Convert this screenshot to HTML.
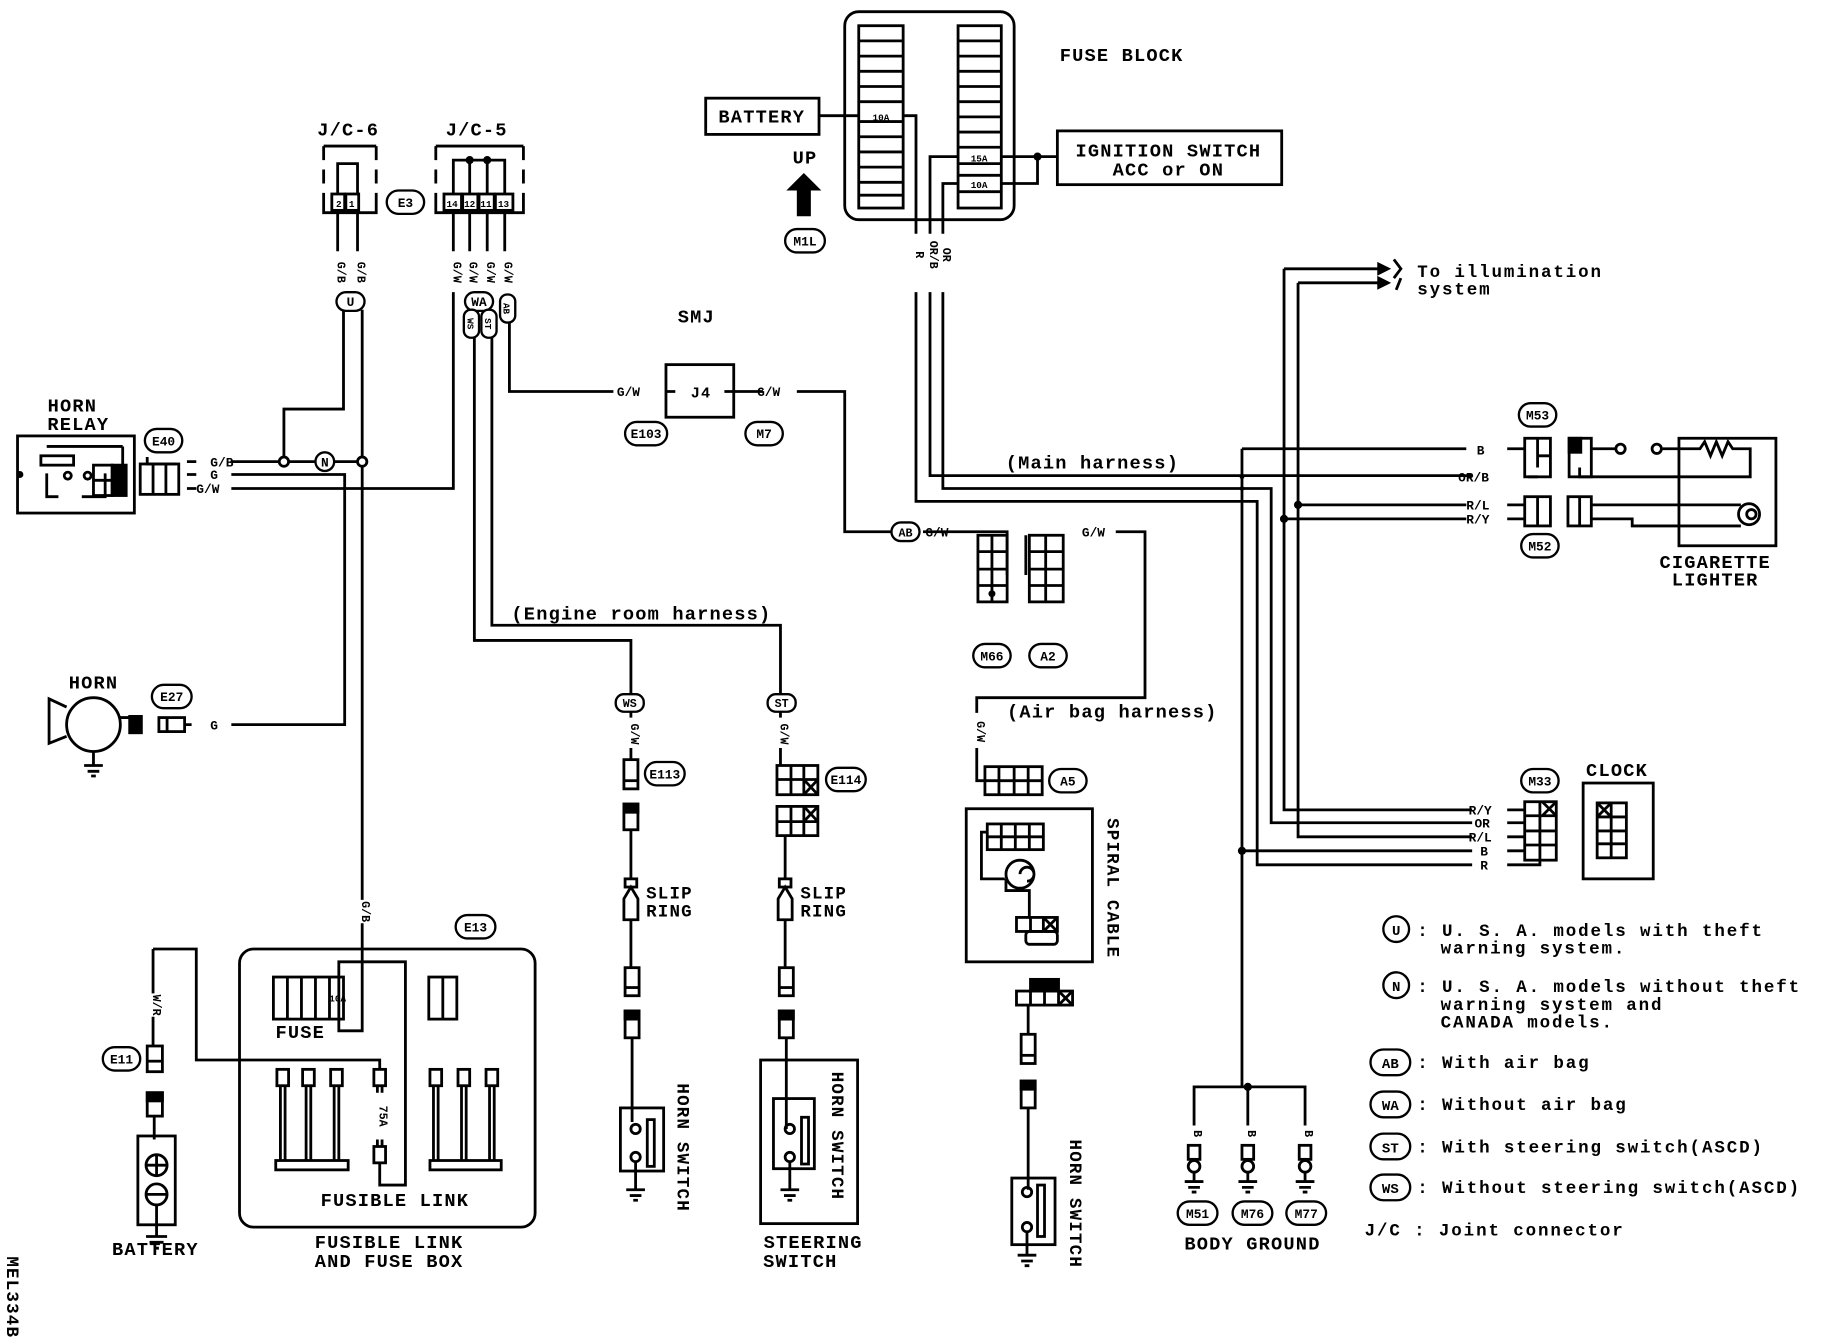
<!DOCTYPE html>
<html><head><meta charset="utf-8"><style>
html,body{margin:0;padding:0;background:#fff;}
svg{display:block;}
text{font-family:"Liberation Mono","DejaVu Sans Mono",monospace;font-weight:bold;fill:#000;}
.big{letter-spacing:1px;}
.leg{letter-spacing:1.6px;}
</style></head><body>
<svg width="1832" height="1344" viewBox="0 0 1568 1150" preserveAspectRatio="none" xmlns="http://www.w3.org/2000/svg">
<rect width="1568" height="1150" fill="#fff"/>
<g fill="none" stroke="#000" stroke-width="2.4">
<rect x="723" y="10" width="145" height="178" rx="12"/>
<rect x="735" y="22" width="38" height="156"/>
<path d="M735 35h38M735 48h38M735 61h38M735 74h38M735 87h38M735 104h38M735 117h38M735 130h38M735 143h38M735 156h38M735 167h38"/>
<rect x="820" y="22" width="37" height="156"/>
<path d="M820 35h37M820 48h37M820 61h37M820 74h37M820 87h37M820 100h37M820 113h37M820 126h37M820 140h37M820 150h37M820 164h37"/>
<rect x="604" y="84" width="97" height="31"/>
<path d="M701 99h34M773 99h11V200M820 134h-24V200M820 157h-13V200M857 134h48M857 157h31V134"/>
<rect x="905" y="112" width="192" height="46"/>
<path d="M784 250V429H1076V740H1260M796 250V407H1260M807 250V418H1088V704H1260"/>
<path d="M1063 384H1255M1063 384V930"/>
<path d="M1099 230H1180M1099 230V693H1260M1111 242H1180M1111 242V716H1260M1111 432H1255M1099 444H1255M1063 728H1260"/>
<path d="M1180 226l8 4-8 4zM1180 238l8 4-8 4z" fill="#000"/>
<path d="M1193 222l6 8-6 8M1199 238l-4 10"/>
<rect x="1305" y="375" width="22" height="33"/><path d="M1316 375v25M1327 390h-11M1290 384h15M1316 408h-8"/>
<rect x="1343" y="375" width="19" height="33"/><rect x="1343" y="375" width="10" height="12" fill="#000"/>
<path d="M1362 384h20M1423 384h14M1437 384h18l4-6 5 12 5-12 5 12 5-12 4 6h15v24H1352V400"/>
<circle cx="1387" cy="384" r="4"/><circle cx="1418" cy="384" r="4"/>
<rect x="1437" y="375" width="83" height="92"/>
<rect x="1305" y="425" width="22" height="25"/><path d="M1316 425v25M1290 432h15M1290 444h15"/>
<rect x="1342" y="425" width="20" height="25"/><path d="M1352 425v25M1362 432h128M1362 444h35v6h93"/>
<circle cx="1497" cy="440" r="9"/><circle cx="1499" cy="440" r="4"/>
<rect x="1305" y="686" width="27" height="50"/><path d="M1318 686v50M1305 698h27M1305 711h27M1305 723h27M1320 686l12 12M1332 686l-12 12M1290 693h15M1290 704h15M1290 716h15M1290 728h15M1290 740h28v-4"/>
<rect x="1355" y="670" width="60" height="82"/>
<rect x="1367" y="687" width="25" height="47"/><path d="M1379 687v47M1367 699h25M1367 711h25M1367 722h25M1367 687l12 12M1379 687l-12 12"/>
<path d="M1022 963V930H1117V963M1068 930V963"/>
<g>
<rect x="1017" y="980" width="10" height="12"/><circle cx="1022" cy="998" r="5"/><path d="M1022 1003v8M1014 1011h16M1017 1016h10M1020 1020h4"/>
<rect x="1063" y="980" width="10" height="12"/><circle cx="1068" cy="998" r="5"/><path d="M1068 1003v8M1060 1011h16M1063 1016h10M1066 1020h4"/>
<rect x="1112" y="980" width="10" height="12"/><circle cx="1117" cy="998" r="5"/><path d="M1117 1003v8M1109 1011h16M1112 1016h10M1115 1020h4"/>
</g>
<path d="M277 125h45M277 125v12M277 145v12M277 165v17h45v-17M322 157v-12M322 137v-12"/>
<rect x="284" y="166" width="11" height="14"/><rect x="296" y="166" width="11" height="14"/>
<path d="M289 166V140h17v26M289 182v33M306 182v33M294 265V350H243V393M310 265V770M310 790V882H290V823H347V1014H325V995"/>
<path d="M373 125h75M373 125v12M373 145v12M373 165v17h75v-17M448 157v-12M448 137v-12"/>
<rect x="380" y="166" width="15" height="14"/><rect x="396" y="166" width="13" height="14"/><rect x="410" y="166" width="13" height="14"/><rect x="424" y="166" width="15" height="14"/>
<path d="M388 166V137h44v29M402 137v29M417 137v29M388 182v33M402 182v33M417 182v33M432 182v33"/>
<path d="M388 250V418H198M406 285V548H540V595M421 285V535H668V595M436 270V335H525M628 335h25M682 335H723V455H763M570 335h8M620 335h8"/>
<rect x="570" y="312" width="58" height="45"/>
<rect x="15" y="373" width="100" height="66"/>
<path d="M105 382V398M40 382h65M40 405v20h10M70 425h20v-20"/><rect x="35" y="390" width="28" height="8"/>
<circle cx="58" cy="407" r="3"/><circle cx="75" cy="407" r="3"/>
<rect x="80" y="398" width="16" height="26"/><path d="M80 411h16"/><rect x="96" y="398" width="12" height="26" fill="#000"/>
<rect x="120" y="397" width="33" height="26"/><path d="M131 397v26M142 397v26M126 391v6h25"/>
<path d="M160 395h8M160 406h8M160 418h8M198 395H240M246 395h24M286 395h20M198 406H295V620H198"/>
<circle cx="243" cy="395" r="4" fill="#fff"/><circle cx="310" cy="395" r="4" fill="#fff"/>
<circle cx="80" cy="620" r="23"/><path d="M57 605L42 598V636L57 630M103 614h8"/><rect x="111" y="613" width="10" height="14" fill="#000"/>
<rect x="136" y="614" width="22" height="12"/><path d="M143 614v12M158 620h6"/>
<path d="M80 643v12M72 655h16M75 660h10M78 664h4"/>
<path d="M540 608v6M540 640v10"/>
<rect x="534" y="650" width="12" height="25"/><path d="M534 668h12"/>
<rect x="534" y="688" width="12" height="22"/><rect x="534" y="688" width="12" height="7" fill="#000"/>
<path d="M540 710V752"/><rect x="535" y="752" width="10" height="7"/><path d="M540 759l-6 10v18h12v-18zM540 787V828"/>
<rect x="535" y="828" width="12" height="24"/><path d="M535 845h12"/>
<rect x="535" y="865" width="12" height="23"/><rect x="535" y="865" width="12" height="7" fill="#000"/>
<path d="M541 888V960"/>
<rect x="531" y="948" width="37" height="54"/><circle cx="544" cy="966" r="4"/><circle cx="544" cy="990" r="4"/><rect x="554" y="958" width="6" height="40"/>
<path d="M544 994v24M536 1018h16M539 1023h10M542 1027h4"/>
<path d="M668 608v6M668 640v15"/>
<rect x="665" y="655" width="35" height="25"/><path d="M677 655v25M688 655v25M665 667h35M688 667l12 13M700 667l-12 13"/>
<rect x="665" y="690" width="35" height="25"/><path d="M677 690v25M688 690v25M665 703h35M688 690l12 13M700 690l-12 13"/>
<path d="M672 715V752"/><rect x="667" y="752" width="10" height="7"/><path d="M672 759l-6 10v18h12v-18zM672 787V828"/>
<rect x="667" y="828" width="12" height="24"/><path d="M667 845h12"/>
<rect x="667" y="865" width="12" height="23"/><rect x="667" y="865" width="12" height="7" fill="#000"/>
<rect x="651" y="907" width="83" height="140"/>
<path d="M673 888V966"/>
<rect x="662" y="940" width="35" height="60"/><circle cx="676" cy="966" r="4"/><circle cx="676" cy="990" r="4"/><rect x="686" y="956" width="6" height="40"/>
<path d="M676 994v24M668 1018h16M671 1023h10M674 1027h4"/>
<path d="M790 455H862V492M955 455H980V597H836V610M836 640V668H843M878 492V458"/>
<rect x="837" y="458" width="25" height="57"/><path d="M849 458v57M837 472h25M837 487h25M837 501h25"/>
<rect x="881" y="458" width="29" height="57"/><path d="M895 458v57M881 472h29M881 487h29M881 501h29"/>
<rect x="843" y="656" width="49" height="24"/><path d="M855 656v24M868 656v24M880 656v24M843 668h49"/>
<rect x="827" y="692" width="108" height="131"/>
<rect x="845" y="705" width="48" height="22"/><path d="M857 705v22M869 705v22M881 705v22M845 716h48M845 712h-5v40h20"/>
<path d="M873 748m-12 0a12 12 0 1 1 24 0a12 12 0 1 1-24 0M873 748a6 6 0 1 1 6 6M861 752v10h20V785"/>
<rect x="870" y="785" width="35" height="12"/><path d="M882 785v12M893 785v12M893 785l12 12M905 785l-12 12"/><rect x="878" y="797" width="27" height="11" rx="3"/>
<rect x="870" y="848" width="48" height="12"/><path d="M882 848v12M894 848v12M906 848v12M906 848l12 12M918 848l-12 12"/><rect x="882" y="838" width="24" height="10" fill="#000"/>
<path d="M880 860V885"/><rect x="874" y="885" width="12" height="25"/><path d="M874 903h12"/>
<rect x="874" y="925" width="12" height="23"/><rect x="874" y="925" width="12" height="7" fill="#000"/>
<path d="M880 948V1018"/>
<rect x="866" y="1008" width="37" height="57"/><circle cx="879" cy="1020" r="4"/><circle cx="879" cy="1050" r="4"/><rect x="888" y="1014" width="6" height="44"/>
<path d="M879 1054v20M871 1074h16M874 1079h10M877 1083h4"/>
<path d="M131 812V850M131 870v25M131 812h37V907H325V915"/>
<rect x="126" y="895" width="13" height="22"/><path d="M126 908h13"/>
<rect x="126" y="935" width="13" height="20"/><rect x="126" y="935" width="13" height="7" fill="#000"/>
<path d="M132 955v20"/>
<rect x="118" y="972" width="32" height="76"/>
<circle cx="134" cy="997" r="9"/><path d="M125 997h18M134 988v18"/>
<circle cx="134" cy="1022" r="9"/><path d="M125 1022h18M134 1031V1058M125 1058h18M128 1063h12M132 1068h4"/>
<rect x="205" y="812" width="253" height="238" rx="12"/>
<rect x="234" y="836" width="60" height="36"/><path d="M246 836v36M258 836v36M270 836v36M282 836v36"/>
<rect x="367" y="836" width="24" height="36"/><path d="M379 836v36"/>
<g>
<rect x="237" y="915" width="10" height="14"/><rect x="259" y="915" width="10" height="14"/><rect x="283" y="915" width="10" height="14"/>
<path d="M240 929v64M244 929v64M262 929v64M266 929v64M286 929v64M290 929v64"/><rect x="236" y="993" width="62" height="8"/>
<rect x="320" y="915" width="10" height="14"/><path d="M323 929v6M327 929v6M323 975v6M327 975v6"/><rect x="320" y="981" width="10" height="14"/>
<rect x="368" y="915" width="10" height="14"/><rect x="392" y="915" width="10" height="14"/><rect x="416" y="915" width="10" height="14"/>
<path d="M371 929v64M375 929v64M395 929v64M399 929v64M419 929v64M423 929v64"/><rect x="368" y="993" width="61" height="8"/>
</g>
</g>
<path d="M688 148l-15 15h9v22h12v-22h9z" fill="#000"/>
<g fill="#000">
<circle cx="888" cy="134" r="3.5"/><circle cx="402" cy="137" r="3.5"/><circle cx="417" cy="137" r="3.5"/>
<circle cx="1111" cy="432" r="3.5"/><circle cx="1099" cy="444" r="3.5"/><circle cx="1063" cy="728" r="3.5"/><circle cx="1068" cy="930" r="3.5"/>
<circle cx="1063" cy="408" r="2"/><circle cx="1063" cy="418" r="2"/>
<circle cx="849" cy="508" r="3"/><circle cx="17" cy="406" r="3"/>
</g>
<g fill="#fff" stroke="#000" stroke-width="2">
<rect x="331" y="163" width="32" height="20" rx="10"/>
<rect x="672" y="196" width="34" height="20" rx="10"/>
<rect x="288" y="250" width="24" height="16" rx="8"/>
<rect x="398" y="250" width="24" height="16" rx="8"/>
<rect x="397" y="265" width="13" height="24" rx="6"/>
<rect x="412" y="265" width="13" height="24" rx="6"/>
<rect x="428" y="252" width="13" height="24" rx="6"/>
<rect x="535" y="361" width="36" height="20" rx="10"/>
<rect x="638" y="361" width="32" height="20" rx="10"/>
<rect x="124" y="367" width="32" height="20" rx="10"/>
<rect x="270" y="387" width="16" height="16" rx="8"/>
<rect x="763" y="447" width="24" height="16" rx="8"/>
<rect x="1300" y="345" width="32" height="20" rx="10"/>
<rect x="1302" y="457" width="32" height="20" rx="10"/>
<rect x="833" y="551" width="32" height="20" rx="10"/>
<rect x="881" y="551" width="32" height="20" rx="10"/>
<rect x="130" y="586" width="34" height="20" rx="10"/>
<rect x="527" y="594" width="24" height="15" rx="7"/>
<rect x="657" y="594" width="24" height="15" rx="7"/>
<rect x="552" y="652" width="34" height="20" rx="10"/>
<rect x="707" y="657" width="34" height="20" rx="10"/>
<rect x="898" y="658" width="32" height="20" rx="10"/>
<rect x="1302" y="658" width="32" height="20" rx="10"/>
<rect x="390" y="783" width="34" height="20" rx="10"/>
<rect x="88" y="896" width="32" height="20" rx="10"/>
<rect x="1008" y="1028" width="34" height="20" rx="10"/>
<rect x="1055" y="1028" width="34" height="20" rx="10"/>
<rect x="1101" y="1028" width="34" height="20" rx="10"/>
<rect x="1184" y="784" width="22" height="22" rx="11"/>
<rect x="1184" y="832" width="22" height="22" rx="11"/>
<rect x="1173" y="898" width="34" height="22" rx="11"/>
<rect x="1173" y="934" width="34" height="22" rx="11"/>
<rect x="1173" y="970" width="34" height="22" rx="11"/>
<rect x="1173" y="1005" width="34" height="22" rx="11"/>
</g>
<g font-size="11" text-anchor="middle">
<text x="347" y="177">E3</text><text x="689" y="210">M1L</text><text x="300" y="262">U</text><text x="410" y="262">WA</text>
<text x="553" y="375">E103</text><text x="654" y="375">M7</text><text x="140" y="381">E40</text><text x="278" y="399">N</text>
<text x="775" y="459" font-size="10">AB</text><text x="1316" y="359">M53</text><text x="1318" y="471">M52</text>
<text x="849" y="565">M66</text><text x="897" y="565">A2</text><text x="147" y="600">E27</text>
<text x="539" y="605" font-size="10">WS</text><text x="669" y="605" font-size="10">ST</text>
<text x="569" y="666">E113</text><text x="724" y="671">E114</text><text x="914" y="672">A5</text><text x="1318" y="672">M33</text>
<text x="407" y="797">E13</text><text x="104" y="910">E11</text>
<text x="1025" y="1042">M51</text><text x="1072" y="1042">M76</text><text x="1118" y="1042">M77</text>
</g>
<g font-size="8" text-anchor="middle">
<text transform="translate(403 277) rotate(90)" x="0" y="3">WS</text>
<text transform="translate(418 277) rotate(90)" x="0" y="3">ST</text>
<text transform="translate(434 264) rotate(90)" x="0" y="3">AB</text>
<text x="290" y="177">2</text><text x="301" y="177">1</text>
<text x="387" y="177">14</text><text x="402" y="177">12</text><text x="416" y="177">11</text><text x="431" y="177">13</text>
<text x="754" y="103">10A</text><text x="838" y="138">15A</text><text x="838" y="161">10A</text><text x="289" y="857">10A</text>
</g>
<g font-size="16" text-anchor="middle" class="big">
<text x="960" y="52">FUSE BLOCK</text><text x="652" y="105">BATTERY</text><text x="689" y="140">UP</text>
<text x="1000" y="134">IGNITION SWITCH</text><text x="1000" y="150">ACC or ON</text>
<text x="298" y="116">J/C-6</text><text x="408" y="116">J/C-5</text><text x="596" y="276">SMJ</text>
<text x="600" y="340" font-size="13">J4</text>
<text x="62" y="352">HORN</text><text x="67" y="368">RELAY</text><text x="80" y="589">HORN</text>
<text x="549" y="530">(Engine room harness)</text><text x="935" y="401">(Main harness)</text><text x="952" y="614">(Air bag harness)</text>
<text x="1468" y="486">CIGARETTE</text><text x="1468" y="501">LIGHTER</text><text x="1384" y="664">CLOCK</text>
<text x="1072" y="1069">BODY GROUND</text><text x="133" y="1074">BATTERY</text>
<text x="333" y="1068">FUSIBLE LINK</text><text x="333" y="1084">AND FUSE BOX</text><text x="338" y="1032">FUSIBLE LINK</text>
<text x="257" y="888">FUSE</text><text x="696" y="1068">STEERING</text><text x="685" y="1084">SWITCH</text>
</g>
<g font-size="15" class="leg">
<text x="1213" y="237">To illumination</text><text x="1213" y="252">system</text>
<text x="553" y="769" class="big">SLIP</text><text x="553" y="784" class="big">RING</text><text x="685" y="769" class="big">SLIP</text><text x="685" y="784" class="big">RING</text>
<text x="1213" y="801">: U. S. A. models with theft</text><text x="1233" y="816">warning system.</text>
<text x="1213" y="849">: U. S. A. models without theft</text><text x="1233" y="864">warning system and</text><text x="1233" y="879">CANADA models.</text>
<text x="1213" y="914">: With air bag</text><text x="1213" y="950">: Without air bag</text>
<text x="1213" y="986">: With steering switch(ASCD)</text><text x="1213" y="1021">: Without steering switch(ASCD)</text>
<text x="1168" y="1057">J/C : Joint connector</text>
</g>
<g font-size="12" text-anchor="middle">
<text x="1195" y="800">U</text><text x="1195" y="848">N</text><text x="1190" y="914">AB</text><text x="1190" y="950">WA</text><text x="1190" y="986">ST</text><text x="1190" y="1021">WS</text>
</g>
<g font-size="11">
<text x="180" y="399">G/B</text><text x="180" y="410">G</text><text x="168" y="422">G/W</text><text x="180" y="624">G</text>
<text x="528" y="339">G/W</text><text x="648" y="339">G/W</text><text x="792" y="459">G/W</text><text x="926" y="459">G/W</text>
<text x="1264" y="389">B</text><text x="1248" y="412">OR/B</text><text x="1255" y="436">R/L</text><text x="1255" y="448">R/Y</text>
<text x="1257" y="697">R/Y</text><text x="1262" y="708">OR</text><text x="1257" y="720">R/L</text><text x="1267" y="732">B</text><text x="1267" y="744">R</text>
</g>
<g font-size="10" text-anchor="middle">
<text transform="translate(289 233) rotate(90)">G/B</text><text transform="translate(306 233) rotate(90)">G/B</text>
<text transform="translate(388 233) rotate(90)">G/W</text><text transform="translate(402 233) rotate(90)">G/W</text>
<text transform="translate(417 233) rotate(90)">G/W</text><text transform="translate(432 233) rotate(90)">G/W</text>
<text transform="translate(784 218) rotate(90)">R</text><text transform="translate(796 218) rotate(90)">OR/B</text><text transform="translate(807 218) rotate(90)">OR</text>
<text transform="translate(540 628) rotate(90)">G/W</text><text transform="translate(668 628) rotate(90)">G/W</text>
<text transform="translate(836 626) rotate(90)">G/W</text><text transform="translate(310 780) rotate(90)">G/B</text>
<text transform="translate(131 860) rotate(90)">W/R</text><text transform="translate(325 955) rotate(90)">75A</text>
<text transform="translate(1022 970) rotate(90)">B</text><text transform="translate(1068 970) rotate(90)">B</text><text transform="translate(1117 970) rotate(90)">B</text>
</g>
<g font-size="15" text-anchor="middle" class="big">
<text transform="translate(580 982) rotate(90)">HORN SWITCH</text>
<text transform="translate(712 972) rotate(90)">HORN SWITCH</text>
<text transform="translate(916 1030) rotate(90)">HORN SWITCH</text>
<text transform="translate(948 760) rotate(90)">SPIRAL CABLE</text>
<text transform="translate(6 1110) rotate(90)" font-weight="normal">MEL334B</text>
</g>
</svg>
</body></html>
